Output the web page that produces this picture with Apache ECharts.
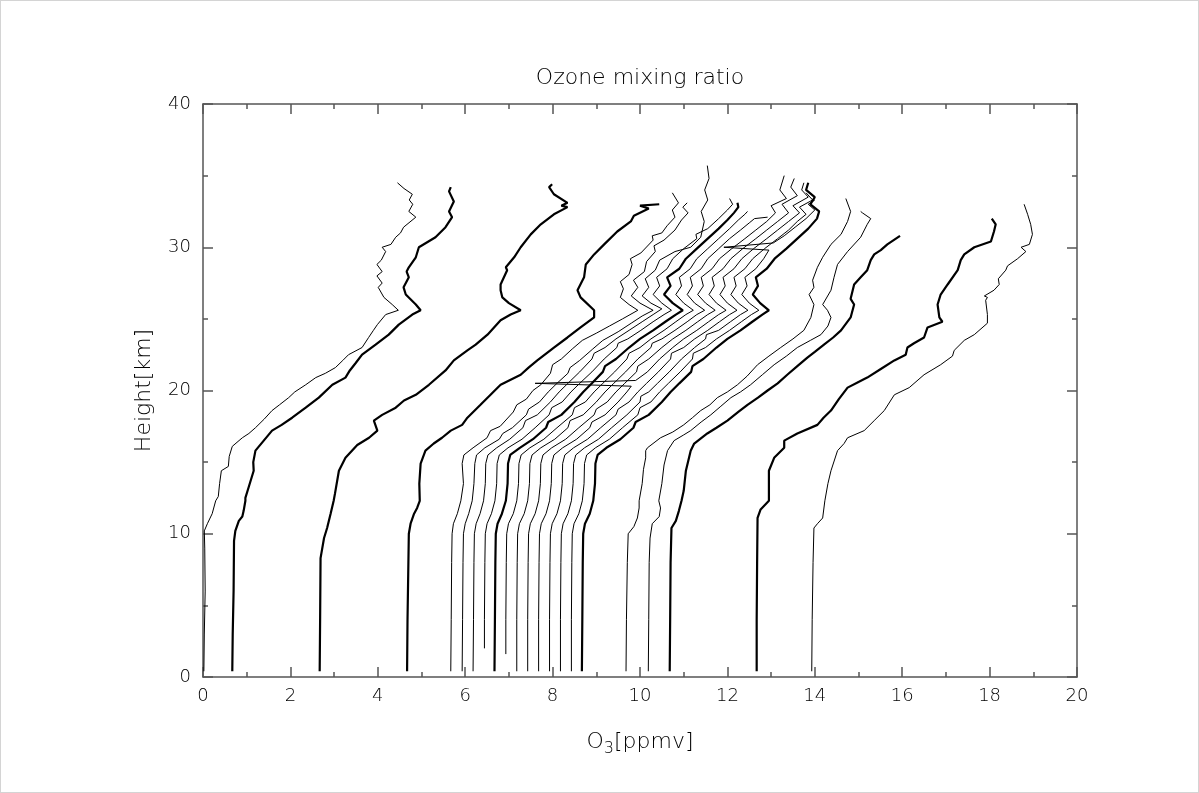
<!DOCTYPE html>
<html>
<head>
<meta charset="utf-8">
<title>Ozone mixing ratio</title>
<script src="https://cdn.jsdelivr.net/npm/echarts@6.0.0/dist/echarts.min.js"></script>
<style>
  html, body { margin: 0; padding: 0; background: #fff; }
  #chart { width: 1199px; height: 793px; box-sizing: border-box; border: 1px solid #d4d4d4; }
</style>
</head>
<body>
<div id="chart"></div>
<script>
// ozone soundings, [mixing ratio ppmv, height km], each profile shifted along x
const A = [[0.02,0.4],[0.03,3],[0.05,6],[0.04,9],[0.03,10.2],[0.1,10.7],[0.21,11.4],[0.29,12.3],[0.35,12.6],[0.38,13.5],[0.42,14.4],[0.58,14.7],[0.6,15.4],[0.67,16.1],[0.9,16.7],[1.05,17.0],[1.2,17.4],[1.4,18.0],[1.58,18.6],[1.75,19.0],[1.96,19.5],[2.1,19.9],[2.35,20.4],[2.58,20.9],[2.8,21.2],[3.03,21.6],[3.2,22.1],[3.33,22.5],[3.64,23.0],[3.79,23.7],[3.9,24.2],[3.99,24.6],[4.18,25.3],[4.47,25.6],[4.33,26.0],[4.14,26.5],[4.01,27.2],[4.1,27.5],[3.98,28.0],[4.1,28.3],[3.98,28.8],[4.08,29.1],[4.18,29.7],[4.1,30.0],[4.3,30.2],[4.41,30.7],[4.52,31.0],[4.59,31.4],[4.87,32.1],[4.71,32.5],[4.8,33.0],[4.72,33.3],[4.79,33.7],[4.6,34.1],[4.45,34.5]];
const B = [[0.67,0.4],[0.68,3],[0.7,6],[0.71,9.5],[0.74,10.2],[0.82,10.9],[0.9,11.2],[0.93,11.6],[0.97,12.3],[0.97,12.5],[1.05,13.3],[1.16,14.4],[1.15,15.0],[1.2,15.8],[1.39,16.5],[1.58,17.2],[1.8,17.6],[2.04,18.1],[2.35,18.8],[2.65,19.5],[2.96,20.4],[3.26,20.9],[3.36,21.4],[3.49,21.9],[3.64,22.5],[3.95,23.2],[4.25,23.9],[4.48,24.6],[4.79,25.3],[4.98,25.6],[4.87,26.0],[4.64,26.7],[4.59,27.2],[4.71,27.9],[4.66,28.3],[4.71,28.6],[4.87,29.3],[4.94,30.0],[5.32,30.7],[5.55,31.4],[5.7,32.1],[5.63,32.5],[5.74,33.2],[5.63,33.9],[5.67,34.2]];
const C = [[2.67,0.4],[2.68,4],[2.69,8.3],[2.77,9.7],[2.84,10.4],[2.92,11.4],[2.99,12.3],[3.02,12.8],[3.11,14.4],[3.26,15.3],[3.53,16.2],[3.8,16.7],[3.99,17.2],[3.91,17.9],[4.1,18.3],[4.41,18.8],[4.6,19.3],[4.87,19.7],[5.17,20.4],[5.55,21.4],[5.74,22.1],[6.05,22.8],[6.24,23.2],[6.51,23.9],[6.81,24.9],[7.04,25.3],[7.27,25.6],[7.0,26.1],[6.85,26.5],[6.81,27.0],[6.81,27.4],[6.96,28.4],[6.93,28.6],[7.12,29.3],[7.27,30.0],[7.5,30.9],[7.73,31.6],[8.03,32.3],[8.34,32.8],[8.2,32.9],[8.34,33.1],[8.03,33.7],[7.92,34.2],[7.99,34.4]];
const D = [[4.67,0.4],[4.68,4],[4.7,8],[4.71,10.0],[4.75,10.7],[4.83,11.4],[4.9,11.8],[4.96,12.3],[4.95,13.5],[4.98,14.9],[5.09,15.8],[5.28,16.3],[5.47,16.7],[5.67,17.2],[5.93,17.6],[6.05,18.1],[6.35,19.0],[6.58,19.7],[6.81,20.4],[7.27,21.1],[7.45,21.6],[7.65,22.1],[8.03,23.0],[8.34,23.7],[8.64,24.4],[8.95,25.1],[8.95,25.6],[8.64,26.5],[8.57,27.0],[8.72,27.9],[8.76,28.8],[8.95,29.5],[9.18,30.2],[9.48,31.1],[9.79,31.8],[9.86,32.2],[10.2,32.7],[10.0,32.9],[10.44,33.0]];
const L1 = [[5.67,0.4],[5.68,4],[5.69,8],[5.7,10.0],[5.73,10.7],[5.82,11.4],[5.9,12.3],[5.96,13.5],[5.93,14.9],[5.97,15.5],[6.18,16.0],[6.5,16.7],[6.58,17.2],[6.8,17.5],[7.1,18.5],[7.18,19.0],[7.4,19.4],[7.55,20.0],[7.73,20.4],[7.95,21.2],[8.0,21.8],[8.2,22.2],[8.45,22.9],[8.68,23.5],[9.0,24.0],[9.3,24.5],[9.6,25.0],[9.95,25.6],[9.75,26.0],[9.55,26.5],[9.62,27.1],[9.55,27.6],[9.75,28.1],[9.82,28.8],[9.78,29.2],[10.02,29.6],[10.3,30.5],[10.28,30.8],[10.5,31.0],[10.62,31.5],[10.8,32.1],[10.74,32.6],[10.88,33.1],[10.74,33.8]];
const L2 = [[5.93,0.4],[5.94,4],[5.95,8],[5.96,10.0],[6.0,10.7],[6.08,11.4],[6.16,12.3],[6.2,13.5],[6.22,14.9],[6.26,15.5],[6.45,16.0],[6.78,16.6],[6.86,17.0],[7.08,17.4],[7.4,18.3],[7.45,18.7],[7.7,19.2],[7.9,19.9],[8.1,20.5],[8.35,21.2],[8.4,21.6],[8.62,22.1],[8.92,22.9],[9.15,23.5],[9.5,24.1],[9.8,24.7],[10.05,25.2],[10.3,25.6],[10.0,26.1],[9.8,26.6],[9.95,27.2],[9.85,27.7],[10.1,28.3],[10.15,29.0],[10.35,29.7],[10.32,30.1],[10.55,30.5],[10.8,31.2],[10.95,31.9],[11.1,32.4],[10.98,32.8],[11.08,33.1]];
const L3 = [[6.18,0.4],[6.19,4],[6.2,8],[6.21,10.0],[6.25,10.7],[6.34,11.4],[6.42,12.3],[6.46,13.5],[6.47,14.9],[6.52,15.5],[6.72,16.0],[7.02,16.6],[7.32,17.4],[7.38,17.9],[7.65,18.3],[7.95,19.2],[8.15,19.9],[8.35,20.5],[8.62,21.3],[8.9,22.2],[8.95,22.6],[9.2,23.0],[9.45,23.6],[9.75,24.2],[10.05,24.8],[10.3,25.3],[10.5,25.7],[10.25,26.1],[10.05,26.6],[10.2,27.2],[10.12,27.8],[10.35,28.4],[10.45,29.1],[10.8,29.7],[11.16,30.0],[11.39,30.7],[11.47,31.8],[11.4,32.5],[11.55,33.3],[11.48,34.0],[11.58,34.8],[11.54,35.7]];
const L4 = [[6.44,2.0],[6.44,4],[6.45,8],[6.46,10.0],[6.5,10.7],[6.6,11.4],[6.68,12.3],[6.72,13.5],[6.73,14.9],[6.78,15.5],[6.98,16.0],[7.3,16.6],[7.6,17.4],[7.92,18.3],[7.98,18.8],[8.22,19.2],[8.42,19.9],[8.62,20.5],[8.9,21.3],[9.18,22.2],[9.47,23.0],[9.5,23.3],[9.72,23.6],[10.02,24.2],[10.3,24.8],[10.55,25.3],[10.72,25.6],[10.5,26.1],[10.3,26.7],[10.45,27.3],[10.38,27.9],[10.62,28.5],[10.75,29.2],[11.0,29.9],[11.3,30.6],[11.28,30.9],[11.55,31.3],[11.8,32.0],[12.0,32.6],[12.12,33.0],[12.05,33.4]];
const L5 = [[6.67,0.4],[6.68,4],[6.69,8],[6.7,10.0],[6.74,10.7],[6.84,11.4],[6.93,12.3],[6.97,13.5],[6.98,14.9],[7.03,15.5],[7.25,16.0],[7.55,16.6],[7.85,17.4],[7.9,17.8],[8.2,18.3],[8.5,19.2],[8.7,19.9],[8.9,20.5],[9.15,21.3],[9.2,21.7],[9.45,22.2],[9.75,23.0],[10.0,23.6],[10.3,24.2],[10.58,24.8],[10.82,25.3],[10.98,25.6],[10.75,26.1],[10.55,26.7],[10.7,27.3],[10.62,27.9],[10.9,28.5],[11.05,29.2],[11.3,29.9],[11.55,30.6],[11.8,31.3],[12.0,31.9],[12.15,32.4],[12.25,32.8],[12.23,33.1]];
const L6 = [[6.93,1.6],[6.93,4],[6.94,8],[6.95,10.0],[6.99,10.7],[7.1,11.4],[7.18,12.3],[7.22,13.5],[7.23,14.9],[7.28,15.5],[7.48,16.0],[7.8,16.6],[8.1,17.4],[8.45,18.3],[8.5,18.8],[8.75,19.2],[8.95,19.9],[9.15,20.5],[9.42,21.3],[9.7,22.2],[9.75,22.6],[10.0,23.0],[10.25,23.6],[10.55,24.2],[10.82,24.8],[11.05,25.3],[11.22,25.6],[11.0,26.1],[10.82,26.7],[10.95,27.3],[10.9,27.9],[11.15,28.5],[11.3,29.2],[11.55,29.9],[11.8,30.6],[12.05,31.3],[12.25,31.9],[12.4,32.3],[12.46,32.5]];
const L7 = [[7.18,0.4],[7.18,4],[7.19,8],[7.2,10.0],[7.24,10.7],[7.35,11.4],[7.43,12.3],[7.47,13.5],[7.48,14.9],[7.53,15.5],[7.73,16.0],[8.05,16.6],[8.35,17.4],[8.4,17.9],[8.7,18.3],[9.0,19.2],[9.2,19.9],[9.4,20.5],[9.67,21.3],[9.95,22.2],[10.25,23.0],[10.28,23.3],[10.5,23.6],[10.8,24.2],[11.08,24.8],[11.3,25.3],[11.48,25.6],[11.25,26.1],[11.08,26.7],[11.2,27.3],[11.15,27.9],[11.4,28.5],[11.55,29.2],[11.8,29.9],[12.05,30.6],[12.3,31.2],[12.5,31.7],[12.62,32.0],[12.92,32.1]];
const L8 = [[7.43,0.4],[7.43,4],[7.44,8],[7.45,10.0],[7.49,10.7],[7.6,11.4],[7.68,12.3],[7.72,13.5],[7.73,14.9],[7.78,15.5],[7.98,16.0],[8.3,16.6],[8.6,17.4],[8.95,18.3],[9.0,18.7],[9.25,19.2],[9.45,19.9],[9.65,20.5],[9.92,21.3],[9.95,21.7],[10.2,22.2],[10.5,23.0],[10.75,23.6],[11.05,24.2],[11.32,24.8],[11.55,25.3],[11.72,25.6],[11.5,26.1],[11.32,26.7],[11.45,27.3],[11.4,27.9],[11.65,28.5],[11.82,29.2],[12.1,29.9],[12.4,30.6],[12.65,31.2],[12.9,31.8],[13.1,32.4],[13.0,32.9],[13.35,33.4],[13.2,34.0],[13.3,35.0]];
const L9 = [[7.68,0.4],[7.68,4],[7.69,8],[7.7,10.0],[7.74,10.7],[7.85,11.4],[7.93,12.3],[7.97,13.5],[7.98,14.9],[8.03,15.5],[8.23,16.0],[8.55,16.6],[8.85,17.4],[8.9,17.8],[9.2,18.3],[9.5,19.2],[9.7,19.9],[9.8,20.3],[7.6,20.5],[9.9,20.7],[10.17,21.3],[10.45,22.2],[10.75,23.0],[11.0,23.6],[11.3,24.2],[11.57,24.8],[11.8,25.3],[11.97,25.6],[11.75,26.1],[11.58,26.7],[11.7,27.3],[11.65,27.9],[11.9,28.5],[12.08,29.2],[12.35,29.9],[12.65,30.6],[12.9,31.2],[13.15,31.8],[13.4,32.4],[13.25,33.0],[13.6,33.6],[13.45,34.2],[13.53,34.8]];
const L10 = [[7.93,0.4],[7.93,4],[7.94,8],[7.95,10.0],[7.99,10.7],[8.1,11.4],[8.18,12.3],[8.22,13.5],[8.23,14.9],[8.28,15.5],[8.48,16.0],[8.8,16.6],[9.1,17.4],[9.45,18.3],[9.5,18.7],[9.75,19.2],[9.95,19.9],[10.15,20.5],[10.42,21.3],[10.7,22.2],[10.72,22.6],[11.0,23.0],[11.25,23.6],[11.55,24.2],[11.82,24.8],[12.05,25.3],[12.22,25.6],[12.0,26.1],[11.83,26.7],[11.95,27.3],[11.9,27.9],[12.15,28.5],[12.33,29.2],[12.6,29.9],[12.9,30.6],[13.15,31.2],[13.4,31.8],[13.65,32.4],[13.5,32.9],[13.85,33.5],[13.7,34.0],[13.75,34.5]];
const L11 = [[8.18,0.4],[8.18,4],[8.19,8],[8.2,10.0],[8.24,10.7],[8.35,11.4],[8.43,12.3],[8.47,13.5],[8.48,14.9],[8.53,15.5],[8.73,16.0],[9.05,16.6],[9.35,17.4],[9.7,18.3],[10.0,19.2],[10.02,19.6],[10.2,19.9],[10.4,20.5],[10.67,21.3],[10.95,22.2],[11.25,23.0],[11.5,23.6],[11.52,23.9],[11.8,24.2],[12.07,24.8],[12.3,25.3],[12.47,25.6],[12.25,26.1],[12.08,26.7],[12.2,27.3],[12.15,27.9],[12.4,28.5],[12.58,29.2],[12.85,29.9],[13.15,30.6],[13.4,31.2],[13.6,31.8],[13.8,32.3],[13.65,32.8],[13.95,33.3],[13.8,33.8]];
const L12 = [[8.43,0.4],[8.43,4],[8.44,8],[8.45,10.0],[8.49,10.7],[8.6,11.4],[8.68,12.3],[8.72,13.5],[8.73,14.9],[8.78,15.5],[8.98,16.0],[9.3,16.6],[9.6,17.4],[9.95,18.3],[10.0,18.8],[10.25,19.2],[10.45,19.9],[10.65,20.5],[10.92,21.3],[11.2,22.2],[11.22,22.6],[11.5,23.0],[11.75,23.6],[12.05,24.2],[12.32,24.8],[12.55,25.3],[12.72,25.6],[12.5,26.1],[12.33,26.7],[12.45,27.3],[12.4,27.9],[12.65,28.5],[12.83,29.2],[12.95,29.8],[11.92,30.0],[13.05,30.3],[13.3,30.8],[13.55,31.4],[13.8,32.0],[14.0,32.6],[13.85,33.0],[14.0,33.3]];
const L13 = [[8.67,0.4],[8.68,4],[8.69,8],[8.7,10.0],[8.74,10.7],[8.85,11.4],[8.93,12.3],[8.97,13.5],[8.98,14.9],[9.03,15.5],[9.23,16.0],[9.55,16.6],[9.85,17.4],[9.9,17.8],[10.2,18.3],[10.5,19.2],[10.7,19.9],[10.9,20.5],[11.17,21.3],[11.2,21.7],[11.45,22.2],[11.75,23.0],[12.0,23.6],[12.3,24.2],[12.57,24.8],[12.8,25.3],[12.95,25.6],[12.75,26.1],[12.58,26.7],[12.7,27.3],[12.65,27.9],[12.9,28.5],[13.08,29.2],[13.35,29.9],[13.6,30.6],[13.85,31.3],[14.05,32.0],[14.1,32.5],[13.9,33.0],[14.0,33.5],[13.8,34.0],[13.85,34.5]];
const E = [[9.68,0.4],[9.69,4],[9.71,8],[9.73,10.0],[9.86,10.5],[9.94,11.1],[9.98,11.8],[9.98,12.3],[10.05,13.5],[10.08,14.5],[10.13,15.3],[10.13,15.8],[10.17,16.0],[10.47,16.7],[10.75,17.1],[11.0,17.6],[11.2,18.1],[11.39,18.6],[11.6,19.0],[11.77,19.5],[12.0,19.9],[12.23,20.4],[12.45,21.0],[12.69,21.8],[12.95,22.4],[13.22,23.0],[13.5,23.6],[13.75,24.2],[13.91,25.1],[13.98,26.0],[13.87,26.7],[13.98,27.2],[13.95,27.7],[14.06,28.6],[14.18,29.3],[14.37,30.2],[14.6,30.9],[14.75,31.8],[14.82,32.5],[14.71,33.4]];
const F = [[10.19,0.4],[10.2,4],[10.21,8],[10.23,9.7],[10.28,10.7],[10.44,11.2],[10.47,11.8],[10.43,12.3],[10.5,13.5],[10.55,14.8],[10.63,15.8],[10.78,16.5],[11.0,16.9],[11.16,17.2],[11.4,17.8],[11.62,18.3],[11.85,18.9],[12.08,19.5],[12.3,19.9],[12.53,20.4],[12.8,21.1],[13.07,21.8],[13.35,22.4],[13.6,23.0],[13.9,23.5],[14.14,23.9],[14.3,24.5],[14.37,25.1],[14.29,25.6],[14.18,26.0],[14.37,27.0],[14.44,27.9],[14.52,28.8],[14.75,29.7],[15.05,30.7],[15.2,31.6],[15.28,32.0],[15.09,32.4],[15.05,32.5]];
const G = [[10.68,0.4],[10.69,4],[10.7,8],[10.72,10.4],[10.82,10.9],[10.89,11.6],[10.95,12.3],[11.0,13.0],[11.05,14.4],[11.16,15.8],[11.24,16.3],[11.54,17.0],[11.75,17.4],[12.0,17.9],[12.25,18.5],[12.46,19.0],[12.7,19.5],[12.92,20.0],[13.15,20.5],[13.37,21.1],[13.6,21.7],[13.83,22.3],[14.0,22.7],[14.21,23.2],[14.42,23.7],[14.6,24.2],[14.82,25.1],[14.9,26.0],[14.82,26.4],[14.9,27.4],[15.05,27.9],[15.2,28.4],[15.28,29.1],[15.36,29.5],[15.51,29.8],[15.66,30.2],[15.95,30.8]];
const H = [[12.67,0.4],[12.67,4],[12.68,8],[12.69,11.1],[12.76,11.7],[12.95,12.3],[12.95,13.5],[12.95,14.4],[13.07,15.3],[13.3,16.0],[13.3,16.5],[13.6,17.0],[14.06,17.6],[14.2,18.1],[14.37,18.6],[14.55,19.4],[14.75,20.2],[15.0,20.6],[15.2,20.9],[15.51,21.5],[15.82,22.1],[16.08,22.5],[16.12,23.0],[16.27,23.3],[16.5,23.7],[16.58,24.4],[16.92,24.8],[16.85,25.1],[16.81,26.0],[16.88,26.7],[17.04,27.4],[17.27,28.4],[17.34,29.1],[17.42,29.5],[17.65,30.0],[18.03,30.4],[18.1,31.1],[18.14,31.6],[18.05,32.0]];
const I = [[13.93,0.4],[13.94,4],[13.96,8],[13.98,10.4],[14.06,10.7],[14.18,11.1],[14.23,12.3],[14.3,13.5],[14.37,14.4],[14.52,15.8],[14.67,16.3],[14.75,16.7],[15.13,17.2],[15.36,17.9],[15.59,18.6],[15.82,19.7],[16.16,20.2],[16.5,21.1],[16.88,21.8],[17.15,22.4],[17.19,22.8],[17.42,23.5],[17.65,23.9],[17.95,24.7],[17.95,25.3],[17.91,26.3],[17.95,26.5],[17.88,26.6],[18.1,27.0],[18.22,27.4],[18.2,27.8],[18.37,28.4],[18.41,28.7],[18.64,29.2],[18.83,29.7],[18.72,30.0],[18.91,30.2],[18.98,30.9],[18.94,31.6],[18.87,32.3],[18.79,33.0]];

const profiles = { A, B, C, D, L1, L2, L3, L4, L5, L6, L7, L8, L9, L10, L11, L12, L13, E, F, G, H, I };
const boldOnes = ['B', 'C', 'D', 'L5', 'L13', 'G', 'H'];

const font = "'DejaVu Sans', sans-serif";
const axisColor = '#555';

const chart = echarts.init(document.getElementById('chart'));

function xAxisDef(pos, labels) {
  return {
    type: 'value', position: pos, min: 0, max: 20, interval: 2,
    axisLine: { show: true, onZero: false, lineStyle: { color: axisColor, width: 1.5 } },
    axisTick: { show: true, inside: true, length: 10, lineStyle: { color: axisColor, width: 1.5 } },
    minorTick: { show: true, splitNumber: 2, length: 5, lineStyle: { color: axisColor, width: 1.5 } },
    splitLine: { show: false },
    axisLabel: { show: labels, margin: 10, color: '#000', fontSize: 18, fontFamily: font, fontWeight: 200 }
  };
}
function yAxisDef(pos, labels) {
  return {
    type: 'value', position: pos, min: 0, max: 40, interval: 10,
    axisLine: { show: true, onZero: false, lineStyle: { color: axisColor, width: 1.5 } },
    axisTick: { show: true, inside: true, length: 10, lineStyle: { color: axisColor, width: 1.5 } },
    minorTick: { show: true, splitNumber: 2, length: 5, lineStyle: { color: axisColor, width: 1.5 } },
    splitLine: { show: false },
    axisLabel: { show: labels, margin: 12, color: '#000', fontSize: 18, fontFamily: font, fontWeight: 200 }
  };
}

const xBottom = xAxisDef('bottom', true);
xBottom.name = '{a|O}{b|3}{a|[ppmv]}';
xBottom.nameLocation = 'middle';
xBottom.nameGap = 50;
xBottom.nameTextStyle = {
  rich: {
    a: { fontSize: 22, fontFamily: font, fontWeight: 200, color: '#000', lineHeight: 30 },
    b: { fontSize: 16, fontFamily: font, fontWeight: 200, color: '#000', lineHeight: 16, verticalAlign: 'bottom' }
  }
};
const yLeft = yAxisDef('left', true);
yLeft.name = 'Height[km]';
yLeft.nameLocation = 'middle';
yLeft.nameGap = 48;
yLeft.nameTextStyle = { fontSize: 22, fontFamily: font, fontWeight: 200, color: '#000' };

const series = Object.keys(profiles).map(function (key) {
  return {
    name: key,
    type: 'line',
    xAxisIndex: 0,
    yAxisIndex: 0,
    data: profiles[key],
    showSymbol: false,
    symbol: 'none',
    silent: true,
    lineStyle: { color: '#000', width: boldOnes.indexOf(key) >= 0 ? 2.2 : 1 }
  };
});

chart.setOption({
  animation: false,
  backgroundColor: '#fff',
  grid: { left: 202, top: 103, width: 874, height: 573 },
  graphic: [{
    type: 'text', x: 639, y: 77,
    style: { text: 'Ozone mixing ratio', fontSize: 22, fontFamily: font, fontWeight: 200, fill: '#000', align: 'center', verticalAlign: 'middle' }
  }],
  xAxis: [xBottom, xAxisDef('top', false)],
  yAxis: [yLeft, yAxisDef('right', false)],
  series: series
});
</script>
</body>
</html>
